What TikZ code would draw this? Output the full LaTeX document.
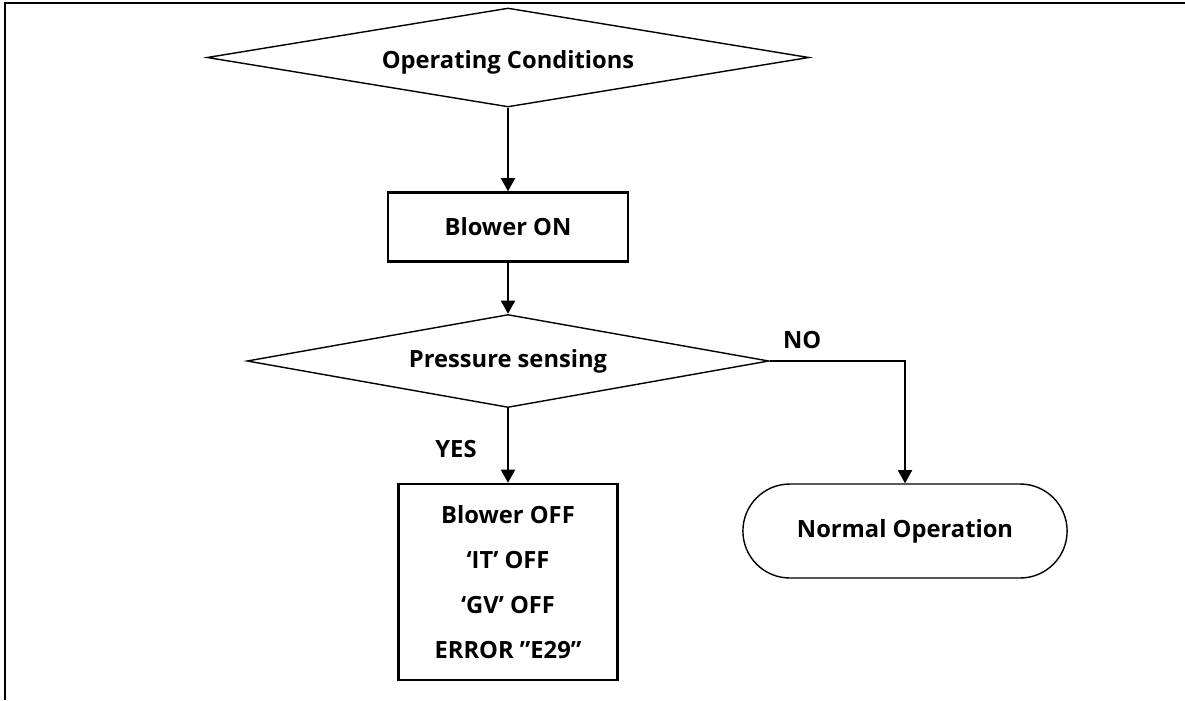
\documentclass[tikz,border=0pt]{standalone}
\usepackage{fontspec}
\setmainfont{Open Sans}
\usetikzlibrary{positioning, arrows.meta, shapes.geometric, shapes.misc}
\tikzset{
  decision/.style={draw, diamond, line width=0.8pt, inner sep=0pt},
  process/.style={draw, rectangle, line width=1.4pt, align=center, font=\bfseries\fontsize{13.5}{25.5}\selectfont},
  terminal/.style={draw, rounded rectangle, line width=0.8pt, minimum width=6.72cm, minimum height=1.88cm, font=\bfseries\fontsize{13.5}{16}\selectfont},
  flow/.style={line width=1.1pt, -{Triangle[length=7.5pt, width=8pt]}},
  tag/.style={font=\bfseries\fontsize{13.5}{16}\selectfont}
}

\begin{document}
\begin{tikzpicture}[x=0.02cm, y=-0.02cm, every label/.style={font=\bfseries\fontsize{13.5}{16}\selectfont}]
  \useasboundingbox (0,0) rectangle (1185,700);
  % Frame (top and left edge only)
  \draw[line width=1.2pt] (1185,3) -- (5,3) -- (5,700);

  % Nodes
  \node[decision, minimum width=12.04cm, minimum height=1.98cm,
        label={[yshift=-3pt]center:Operating Conditions}] (cond) at (508,57.5) {};
  \node[process, minimum width=4.8cm, minimum height=1.38cm] (blower) at (508,227) {Blower ON};
  \node[decision, minimum width=10.44cm, minimum height=1.86cm,
        label={center:Pressure sensing}] (sense) at (508,361) {};
  \node[process, minimum width=4.38cm, minimum height=3.92cm] (stop) at (508,582)
    {Blower OFF\\‘IT’ OFF\\‘GV’ OFF\\ERROR "E29”};
  \node[terminal] (normal) at (905,531) {Normal Operation};

  % Connectors
  \draw[flow] (cond) -- (blower);
  \draw[flow] (blower) -- (sense);
  \draw[flow] (sense) -- (stop) node[tag, pos=0.55, left=14pt] {YES};
  \draw[flow] (sense.east) -| (normal.north) node[tag, pos=0.12, above, yshift=3pt] {NO};
\end{tikzpicture}
\end{document}
